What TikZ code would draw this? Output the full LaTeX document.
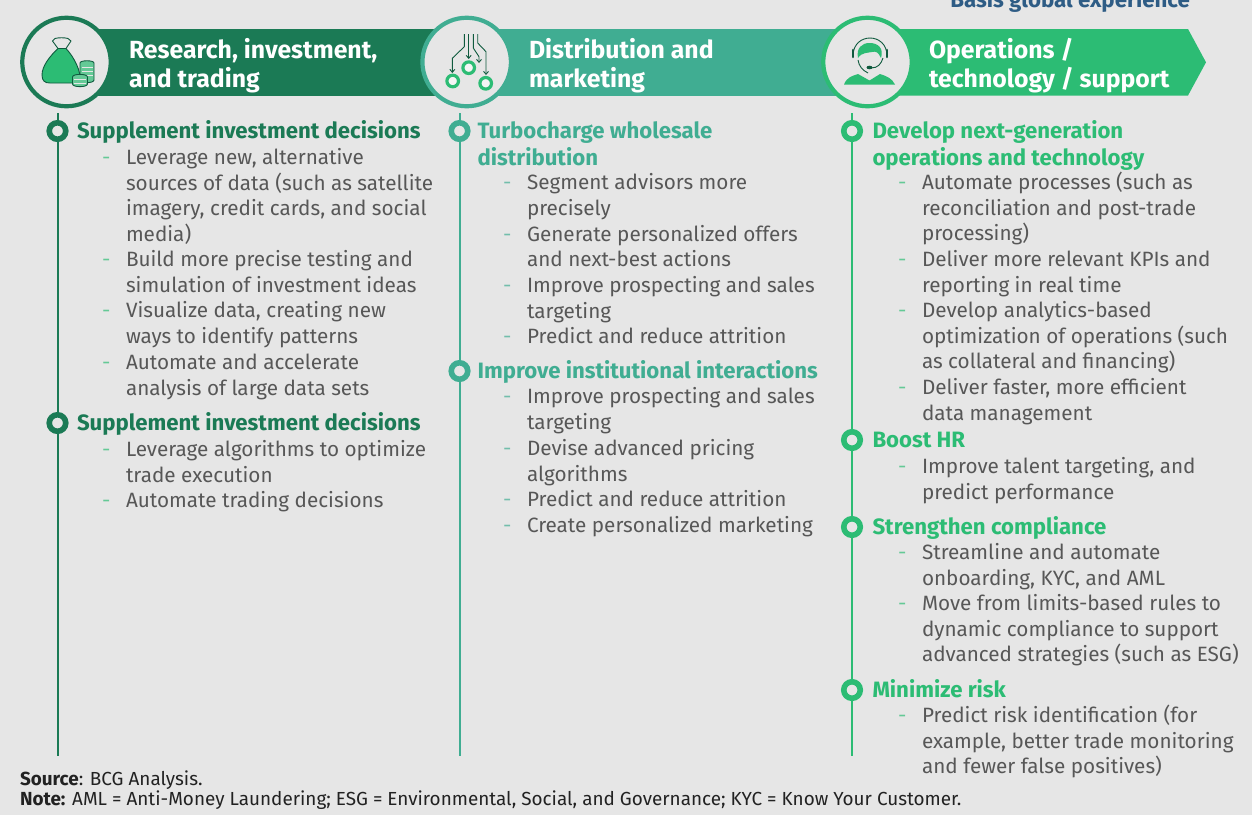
\documentclass[tikz,border=0pt]{standalone}
\usepackage{fontspec}
\setmainfont{Fira Sans}
\usetikzlibrary{arrows.meta}
\definecolor{bgc}{HTML}{E6E6E6}
\definecolor{cA}{HTML}{1B7A55}
\definecolor{cB}{HTML}{40AD92}
\definecolor{cC}{HTML}{2CBC74}
\definecolor{icd}{HTML}{0F5A3E}
\definecolor{bodyc}{HTML}{575757}
\definecolor{titc}{HTML}{2E5C85}
\definecolor{notec}{HTML}{222222}
\tikzset{
 x=1pt,y=-1pt,
 txt/.style={inner sep=0pt,outer sep=0pt,anchor=north west,align=left},
 bodytxt/.style={txt,text=bodyc,font=\fontsize{20.7}{25.6}\selectfont},
 headtxt/.style={txt,font=\fontsize{22.2}{25.6}\selectfont\bfseries},
 bandtxt/.style={txt,text=white,font=\fontsize{24.8}{29}\selectfont\bfseries},
 notetxt/.style={txt,text=notec,font=\fontsize{18.9}{20}\selectfont},
 disc/.style={circle,draw=#1,line width=4.2pt,fill=bgc,minimum size=88.5pt,inner sep=0pt,outer sep=0pt},
 bul/.style={circle,draw=#1,line width=5.6pt,fill=bgc,minimum size=16.5pt,inner sep=0pt,outer sep=0pt},
 vline/.style={draw=#1,line width=2pt},
 dashmark/.style={txt,anchor=base west,text=#1,font=\fontsize{20.7}{25.6}\selectfont},
 icline/.style={draw=icd,line width=0.9pt,line join=round},
 icarrow/.style={icline,-{Straight Barb[length=3pt,width=5pt]}},
}
% \Ln{name}{style}{x}{centre y of the first line}{lines}
\newcommand{\Ln}[5]{\node[#2] (#1) at (#3,#4-10.4) {\strut #5};}
% \It{name}{colour}{x of the text}{cy}{lines}
\newcommand{\It}[5]{\node[dashmark=#2!70!bgc] (#1d) at (#3-24,#4+7.5) {-};\node[bodytxt] (#1) at (#3,#4-10.4) {\strut #5};}
% \Hd{name}{colour}{x of the bullet}{x of the text}{cy}{lines}
\newcommand{\Hd}[6]{\node[bul=#2] (#1b) at (#3,#5) {};\node[headtxt,text=#2] (#1) at (#4,#5-10.4) {\strut #6};}
\newcommand{\Sl}{\\\strut}
\begin{document}
\begin{tikzpicture}
\useasboundingbox (0,0) rectangle (1252,815);
\fill[bgc] (0,0) rectangle (1252,815);
\node[txt,anchor=base east,text=titc,font=\fontsize{22.3}{24}\selectfont\bfseries] (ttl) at (1190,7) {Basis global experience};

% bands
\fill[cC] (860,29) -- (1188,29) -- (1206,62.3) -- (1188,95.5) -- (860,95.5) -- cycle;
\fill[cB] (460,29) rectangle (870,95.5);
\fill[cA] (60,29) rectangle (470,95.5);

% vertical lines
\coordinate (v1a) at (57.5,113); \coordinate (v1b) at (57.5,756);
\coordinate (v2a) at (459.5,113); \coordinate (v2b) at (459.5,756);
\coordinate (v3a) at (852,113); \coordinate (v3b) at (852,756);
\draw[vline=cA] (v1a) -- (v1b);
\draw[vline=cB] (v2a) -- (v2b);
\draw[vline=cC] (v3a) -- (v3b);

% discs
\node[disc=cA] (d1) at (66.5,62) {};
\node[disc=cB] (d2) at (466.7,62) {};
\node[disc=cC] (d3) at (867.5,62) {};

% money bag
\path[fill=cC,draw=icd,line width=0.9pt,line join=round]
 (58,48.5) .. controls (50,56) and (42,66) .. (42,75) .. controls (42,81) and (45,83) .. (50,83) -- (80,83)
 .. controls (82,72) and (74,57) .. (66,48.5) -- cycle;
\draw[icline,fill=bgc] (58,48.5) -- (52.5,41) -- (55,38.5) .. controls (58,37.5) and (65,37.5) .. (68,38.5) -- (71,41) -- (66,48.5) -- cycle;
\draw[icline,fill=cC!70!bgc] (80,63) .. controls (80,60) and (94,60) .. (94,63) -- (94,80) .. controls (94,83.5) and (80,83.5) .. (80,80) -- cycle;
\foreach \yy in {67,71,75}{\draw[bgc,line width=0.9pt] (81.5,\yy) -- (92.5,\yy);}
\draw[icline,fill=cC!70!bgc] (72.5,77) .. controls (72.5,73.5) and (87.5,73.5) .. (87.5,77) -- (87.5,84) .. controls (87.5,87.5) and (72.5,87.5) .. (72.5,84) -- cycle;
\foreach \yy in {79.5,83}{\draw[bgc,line width=0.9pt] (74,\yy) -- (86,\yy);}

% distribution icon
\draw[icarrow] (464.3,34) -- (464.3,46.7) -- (452.3,58.3) -- (452.3,73);
\draw[icarrow] (468.7,34) -- (468.7,59);
\draw[icarrow] (473.3,34) -- (473.3,48) -- (479,56.7) -- (479,63);
\draw[icarrow] (477.7,34) -- (477.7,43) -- (486,51.7) -- (486,75);
\foreach \cx/\cy in {468.7/67.7,452.7/81,485.7/83.3}{
 \draw[cC,line width=3.2pt,fill=bgc!40!white] (\cx,\cy) circle (5.8pt);
}

% headset icon
\fill[cC] (844,84.5) .. controls (847,77) and (852,76) .. (858,74) -- (869.5,80.5) -- (880,74) .. controls (886,76) and (892,78) .. (895,84.5) -- cycle;
\fill[cC] (858,58) .. controls (856,48) and (862,43) .. (869.5,43) .. controls (878,43) and (884,48) .. (881,58) .. controls (878,52) and (876,51) .. (872,52) .. controls (868,53) and (862,52) .. (858,58) -- cycle;
\draw[icline,fill=none] (853,56) .. controls (853,32) and (887,32) .. (887,56);
\draw[icd,line width=2.6pt,line cap=round] (853,50) -- (853,57);
\draw[icd,line width=2.6pt,line cap=round] (887,50) -- (887,57);
\draw[icline] (858,60) .. controls (859,66) and (862,70) .. (868,73);
\draw[icline] (883,58) .. controls (881,64) and (878,68) .. (871,68);
\fill[icd] (869.5,67.5) ellipse (3pt and 1.8pt);

% band titles
\Ln{b1}{bandtxt}{129}{49}{Research, investment,\Sl and trading}
\Ln{b2}{bandtxt}{529}{49}{Distribution and\Sl marketing}
\Ln{b3}{bandtxt}{929}{49}{Operations /\Sl technology / support}

% column 1
\Hd{h11}{cA}{57.5}{77}{131}{Supplement investment decisions}
\It{i11}{cC}{126}{157}{Leverage new, alternative\Sl sources of data (such as satellite\Sl imagery, credit cards, and social\Sl media)}
\It{i12}{cC}{126}{259}{Build more precise testing and\Sl simulation of investment ideas}
\It{i13}{cC}{126}{310}{Visualize data, creating new\Sl ways to identify patterns}
\It{i14}{cC}{126}{362}{Automate and accelerate\Sl analysis of large data sets}
\Hd{h12}{cA}{57.5}{77}{423}{Supplement investment decisions}
\It{i15}{cC}{126}{449}{Leverage algorithms to optimize\Sl trade execution}
\It{i16}{cC}{126}{500}{Automate trading decisions}

% column 2
\Hd{h21}{cB}{459.5}{477.5}{131}{Turbocharge wholesale\Sl distribution}
\It{i21}{cB}{527}{182}{Segment advisors more\Sl precisely}
\It{i22}{cB}{527}{233.5}{Generate personalized offers\Sl and next-best actions}
\It{i23}{cB}{527}{285}{Improve prospecting and sales\Sl targeting}
\It{i24}{cB}{527}{336}{Predict and reduce attrition}
\Hd{h22}{cB}{459.5}{477.5}{371}{Improve institutional interactions}
\It{i25}{cB}{527}{396}{Improve prospecting and sales\Sl targeting}
\It{i26}{cB}{527}{448}{Devise advanced pricing\Sl algorithms}
\It{i27}{cB}{527}{499}{Predict and reduce attrition}
\It{i28}{cB}{527}{524.5}{Create personalized marketing}

% column 3
\Hd{h31}{cC}{852}{872.5}{131}{Develop next-generation\Sl operations and technology}
\It{i31}{cC}{922}{182}{Automate processes (such as\Sl reconciliation and post-trade\Sl processing)}
\It{i32}{cC}{922}{259}{Deliver more relevant KPIs and\Sl reporting in real time}
\It{i33}{cC}{922}{310}{Develop analytics-based\Sl optimization of operations (such\Sl as collateral and financing)}
\It{i34}{cC}{922}{387}{Deliver faster, more efficient\Sl data management}
\Hd{h32}{cC}{852}{872.5}{440}{Boost HR}
\It{i35}{cC}{922}{466}{Improve talent targeting, and\Sl predict performance}
\Hd{h33}{cC}{852}{872.5}{527}{Strengthen compliance}
\It{i36}{cC}{922}{552}{Streamline and automate\Sl onboarding, KYC, and AML}
\It{i37}{cC}{922}{603}{Move from limits-based rules to\Sl dynamic compliance to support\Sl advanced strategies (such as ESG)}
\Hd{h34}{cC}{852}{872.5}{690}{Minimize risk}
\It{i38}{cC}{922}{715}{Predict risk identification (for\Sl example, better trade monitoring\Sl and fewer false positives)}

% notes
\Ln{n1}{notetxt}{20}{781}{\textbf{Source}: BCG Analysis.}
\Ln{n2}{notetxt}{20}{801}{\textbf{Note:} AML = Anti-Money Laundering; ESG = Environmental, Social, and Governance; KYC = Know Your Customer.}
\end{tikzpicture}
\end{document}
